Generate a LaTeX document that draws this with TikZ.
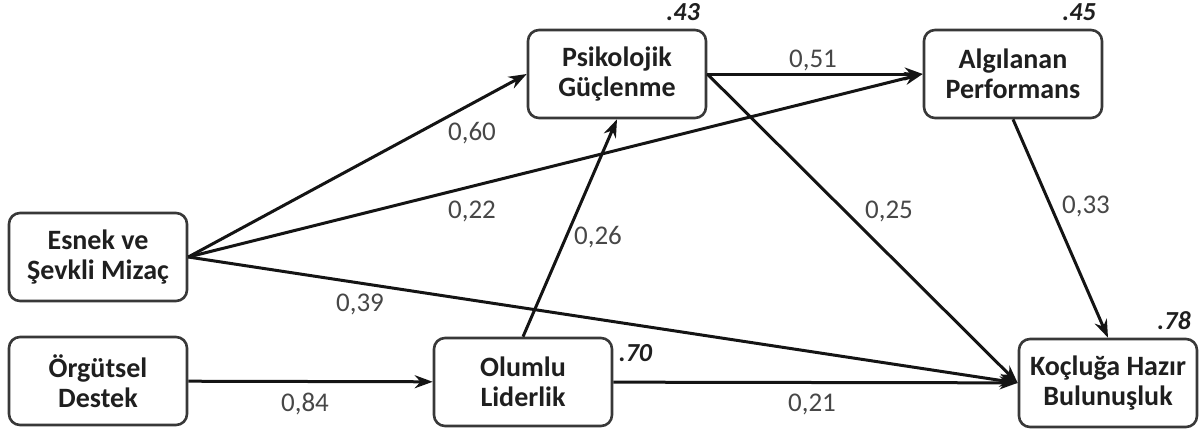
\documentclass[tikz,border=0pt]{standalone}
\usepackage{fontspec}
\setmainfont{Carlito}
\usetikzlibrary{arrows.meta,positioning,calc}

\begin{document}
\begin{tikzpicture}[x=1pt,y=-1pt,
  construct/.style={draw=black!78,line width=2.6pt,rounded corners=11pt,fill=white,
    minimum width=178pt,minimum height=88pt,align=center,inner sep=2pt,
    font=\fontsize{28}{30}\selectfont\bfseries,text=black!88},
  effect/.style={line width=3pt,black!92,-{Stealth[length=18pt,width=13pt]}},
  coef/.style={font=\fontsize{27}{28}\selectfont,text=black!72},
  rsq/.style={font=\fontsize{26}{28}\selectfont\bfseries\itshape,text=black!88}]
  \useasboundingbox (0,0) rectangle (1202,429);

  % ====== Constructs ======
  \node[construct] (esnek)  at (98,257)   {Esnek ve\\Şevkli Mizaç};
  \node[construct] (orgut)  at (98,381)   {Örgütsel\\Destek};
  \node[construct] (psiko)  at (617,74)   {Psikolojik\\Güçlenme};
  \node[construct] (algi)   at (1013,74)  {Algılanan\\Performans};
  \node[construct] (olumlu) at (523,382)  {Olumlu\\Liderlik};
  \node[construct] (kocl)   at (1108,383) {Koçluğa Hazır\\Bulunuşluk};

  % ====== Paths ======
  \draw[effect] (esnek.east) -- (psiko.west);
  \draw[effect] (esnek.east) -- (algi.west);
  \draw[effect] (esnek.east) -- (kocl.west);
  \draw[effect] (orgut) -- (olumlu);
  \draw[effect] (olumlu.north) -- (psiko.south);
  \draw[effect] (olumlu) -- (kocl);
  \draw[effect] (psiko.east) -- (algi.west);
  \draw[effect] (psiko.east) -- (kocl.west);
  \draw[effect] (algi.south) -- (kocl.north);

  % ====== Path coefficients ======
  \node[coef] (c60) at (472,133) {0,60};
  \node[coef] (c22) at (472,211) {0,22};
  \node[coef] (c39) at (360,304) {0,39};
  \node[coef] (c84) at (305,404) {0,84};
  \node[coef] (c26) at (598,237) {0,26};
  \node[coef] (c51) at (813,60)  {0,51};
  \node[coef] (c25) at (889,211) {0,25};
  \node[coef] (c21) at (812,404) {0,21};
  \node[coef] (c33) at (1086,206) {0,33};

  % ====== Explained variance ======
  \foreach \n/\v in {psiko/43,algi/45,kocl/78}{
    \node[rsq,anchor=south east] (r\v) at ($(\n.north east)+(-4,-4)$) {.\v};
  }
  \node[rsq,anchor=north west] (r70) at ($(olumlu.north east)+(2,4)$) {.70};
\end{tikzpicture}
\end{document}
